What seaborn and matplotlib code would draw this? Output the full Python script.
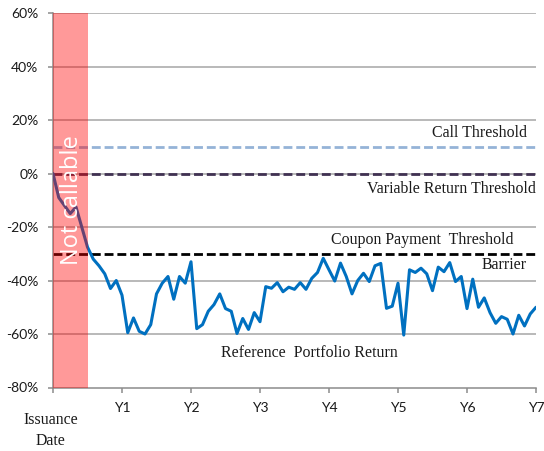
import matplotlib
matplotlib.use("Agg")
import matplotlib.pyplot as plt
import seaborn as sns
import pandas as pd
from matplotlib.ticker import FuncFormatter

# ---- data ----
months = list(range(85))
portfolio_return = [
    0, -9, -12, -15, -12.5, -20, -27.5, -32, -34.5, -37.5, -43, -40,
    -45.5, -59.5, -54, -59, -60, -56.5, -45, -41, -38.5, -47, -38.5, -41,
    -33, -58, -56.5, -51.5, -49, -45, -50.5, -51.5, -59.8, -54.2, -58.3, -52,
    -55.4, -42.3, -42.9, -40.8, -44.2, -42.5, -43.3, -40.8, -43.3, -39.2, -37, -31.7,
    -36, -40.2, -33.5, -38.5, -45, -40, -37.3, -40.4, -34.5, -33.6, -50.4, -49.6,
    -41, -60.4, -36, -37, -35.4, -37.5, -43.8, -35, -36.7, -33.3, -40.4, -38.5,
    -50.5, -39.5, -50, -46.5, -52, -56, -53.5, -54.5, -60, -53, -57, -52.5,
    -50,
]
call_threshold = 10
variable_return_threshold = 0
coupon_threshold = -30
not_callable_end = 0.5
year_ticks = [0, 1, 2, 3, 4, 5, 6, 7]
year_labels = ["", "Y1", "Y2", "Y3", "Y4", "Y5", "Y6", "Y7"]
y_ticks = [-80, -60, -40, -20, 0, 20, 40, 60]

df = pd.DataFrame({"year": [m / 12 for m in months], "ret": portfolio_return})

sns.set_theme(style="white")
plt.rcParams["font.family"] = ["Lato", "DejaVu Sans"]

fig = plt.figure(figsize=(5.44, 4.51), dpi=100)
ax = fig.add_axes([53 / 544, 1 - 387.5 / 451, (536 - 53) / 544, (387.5 - 13) / 451])

# grid
for yv in y_ticks[1:]:
    ax.axhline(yv, color="#A6A6A6", lw=1.1, zorder=1)

# thresholds
ax.axhline(call_threshold, color="#95B3D7", lw=2.0, ls=(0, (3.2, 1.4)), zorder=2)
ax.axhline(variable_return_threshold, color="#403152", lw=2.0, ls=(0, (3.2, 1.4)), zorder=2)
ax.axhline(coupon_threshold, color="black", lw=2.0, ls=(0, (3.2, 1.4)), zorder=2)

sns.lineplot(data=df, x="year", y="ret", color="#0070C0", lw=2.2, ax=ax, zorder=3)

ax.axvspan(0, not_callable_end, color="red", alpha=0.4, lw=0, zorder=5)
ax.text(0.27, -10, "Not callable", rotation=90, color="white", fontsize=17,
        ha="center", va="center", zorder=6, family=["Open Sans", "DejaVu Sans"])

serif = ["Liberation Serif", "DejaVu Serif"]
fs = 11.4
ax.text(6.87, 15, "Call Threshold", ha="right", va="center", fontsize=fs, family=serif, color="#1a1a1a")
ax.text(7.0, -5.7, "Variable Return Threshold", ha="right", va="center", fontsize=fs, family=serif, color="#1a1a1a")
ax.text(6.68, -24.8, "Coupon Payment  Threshold", ha="right", va="center", fontsize=fs, family=serif, color="#1a1a1a")
ax.text(6.87, -34.2, "Barrier", ha="right", va="center", fontsize=fs, family=serif, color="#1a1a1a")
ax.text(3.72, -67, "Reference  Portfolio Return", ha="center", va="center", fontsize=fs, family=serif, color="#1a1a1a")
ax.text(-0.03, -96, "Issuance\nDate", ha="center", va="center", fontsize=fs, family=serif,
        color="#1a1a1a", linespacing=1.4, clip_on=False)

ax.set_xlim(0, 7)
ax.set_ylim(-80, 60)
ax.set_xticks(year_ticks)
ax.set_xticklabels(year_labels)
ax.set_yticks(y_ticks)
ax.yaxis.set_major_formatter(FuncFormatter(lambda v, p: f"{int(v)}%"))
ax.set_xlabel("")
ax.set_ylabel("")

for s in ["top", "right"]:
    ax.spines[s].set_visible(False)
for s in ["left", "bottom"]:
    ax.spines[s].set_color("#8C8C8C")
    ax.spines[s].set_linewidth(1.1)
ax.tick_params(axis="both", which="both", direction="out", length=3.6, width=1.1,
               color="#8C8C8C", labelsize=10, labelcolor="#1a1a1a")
ax.tick_params(axis="x", pad=7)
ax.tick_params(axis="y", pad=7)
ax.tick_params(left=True, bottom=True)

fig.savefig("out.png", dpi=100)
